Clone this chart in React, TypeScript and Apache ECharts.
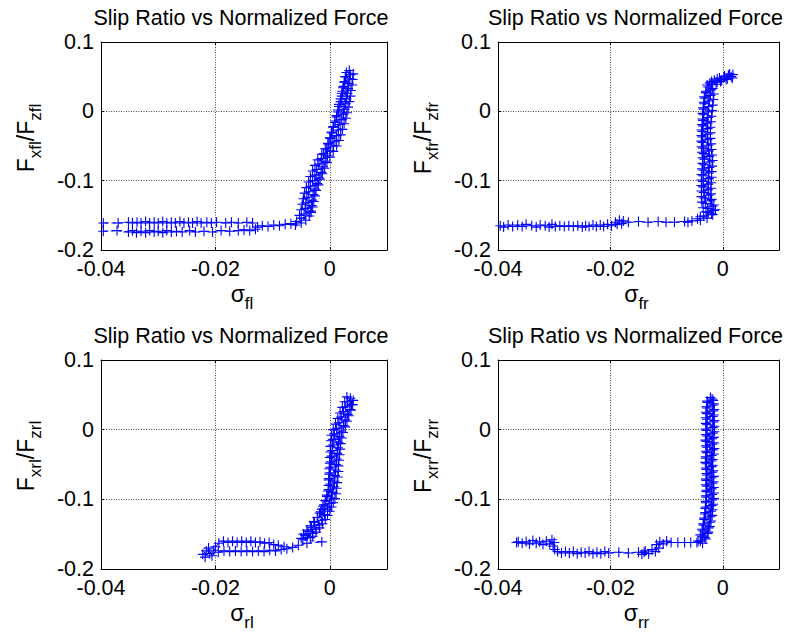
import React, { useEffect, useRef } from 'react';
import * as echarts from 'echarts';

const titleText = 'Slip Ratio vs Normalized Force';
const xTickValues = [-0.04, -0.02, 0];
const yTickValues = [-0.2, -0.1, 0, 0.1];
const wheelSuffix = ['fl', 'fr', 'rl', 'rr'];

// [slip ratio, normalized force]
const frontLeft: [number, number][] = [
  [-0.0053, -0.150], [-0.0033, -0.146], [-0.0050, -0.142], [-0.0030, -0.138], [-0.0048, -0.134],
  [-0.0028, -0.130], [-0.0046, -0.126], [-0.0026, -0.122], [-0.0044, -0.118], [-0.0024, -0.114],
  [-0.0041, -0.110], [-0.0020, -0.106], [-0.0037, -0.102], [-0.0017, -0.098], [-0.0034, -0.094],
  [-0.0013, -0.090], [-0.0030, -0.086], [-0.0009, -0.082], [-0.0026, -0.078], [-0.0005, -0.074],
  [-0.0021, -0.070], [0.0000, -0.066], [-0.0014, -0.062], [0.0006, -0.058], [-0.0008, -0.054],
  [0.0012, -0.050], [-0.0003, -0.046], [0.0016, -0.042], [0.0000, -0.038], [0.0019, -0.034],
  [0.0003, -0.030], [0.0022, -0.026], [0.0006, -0.022], [0.0025, -0.018], [0.0009, -0.014],
  [0.0028, -0.010], [0.0012, -0.006], [0.0030, -0.002], [0.0014, 0.002], [0.0032, 0.006],
  [0.0016, 0.010], [0.0034, 0.014], [0.0019, 0.018], [0.0036, 0.022], [0.0021, 0.026],
  [0.0037, 0.030], [0.0023, 0.034], [0.0039, 0.038], [0.0025, 0.042], [0.0040, 0.046],
  [0.0028, 0.050], [0.0041, 0.054],
  [0.0034, 0.059], [0.0029, 0.056], [0.0036, 0.053], [0.0027, 0.050], [0.0035, 0.047],
  [0.0026, 0.043], [0.0033, 0.040], [0.0024, 0.036], [0.0032, 0.033], [0.0022, 0.029],
  [0.0031, 0.026], [0.0021, 0.022], [0.0029, 0.018], [0.0019, 0.014], [0.0028, 0.011],
  [0.0016, 0.007], [0.0026, 0.003], [0.0015, -0.001], [0.0024, -0.004], [0.0012, -0.008],
  [0.0021, -0.012], [0.0009, -0.016], [0.0018, -0.019], [0.0006, -0.023], [0.0015, -0.027],
  [0.0004, -0.031], [0.0012, -0.035], [0.0001, -0.039], [0.0009, -0.043], [-0.0003, -0.047],
  [0.0006, -0.050], [-0.0006, -0.054], [0.0001, -0.057], [-0.0011, -0.061], [-0.0004, -0.064],
  [-0.0015, -0.068], [-0.0008, -0.072], [-0.0019, -0.076], [-0.0012, -0.080], [-0.0023, -0.084],
  [-0.0015, -0.088], [-0.0026, -0.092], [-0.0019, -0.096], [-0.0030, -0.100], [-0.0022, -0.104],
  [-0.0034, -0.108], [-0.0026, -0.112], [-0.0037, -0.116], [-0.0029, -0.120], [-0.0040, -0.124],
  [-0.0031, -0.128], [-0.0042, -0.132], [-0.0032, -0.136], [-0.0043, -0.140], [-0.0033, -0.144],
  [-0.0045, -0.148], [-0.0036, -0.151], [-0.0050, -0.154], [-0.0042, -0.157], [-0.0058, -0.159],
  [-0.0050, -0.161], [-0.0068, -0.162], [-0.0060, -0.164], [-0.0078, -0.163], [-0.0088, -0.165],
  [-0.0098, -0.164], [-0.0108, -0.166], [-0.0118, -0.165], [-0.0126, -0.167],
  [-0.0135, -0.161], [-0.0145, -0.160], [-0.0160, -0.161], [-0.0172, -0.160], [-0.0182, -0.161],
  [-0.0198, -0.160], [-0.0207, -0.161], [-0.0215, -0.160], [-0.0225, -0.161], [-0.0232, -0.159],
  [-0.0240, -0.161], [-0.0247, -0.160], [-0.0255, -0.161], [-0.0262, -0.159], [-0.0270, -0.161],
  [-0.0277, -0.160], [-0.0285, -0.161], [-0.0292, -0.159], [-0.0300, -0.161], [-0.0307, -0.160],
  [-0.0315, -0.161], [-0.0322, -0.159], [-0.0330, -0.161], [-0.0337, -0.160], [-0.0345, -0.161],
  [-0.0352, -0.160], [-0.0370, -0.161], [-0.0396, -0.161],
  [-0.0396, -0.173], [-0.0372, -0.172], [-0.0352, -0.174], [-0.0345, -0.172], [-0.0338, -0.175],
  [-0.0330, -0.173], [-0.0322, -0.175], [-0.0315, -0.172], [-0.0307, -0.174], [-0.0300, -0.173],
  [-0.0292, -0.175], [-0.0285, -0.172], [-0.0277, -0.174], [-0.0268, -0.173], [-0.0258, -0.174],
  [-0.0245, -0.172], [-0.0235, -0.174], [-0.0220, -0.173], [-0.0205, -0.174], [-0.0190, -0.172],
  [-0.0175, -0.173], [-0.0160, -0.172], [-0.0150, -0.171], [-0.0140, -0.172], [-0.0130, -0.170],
];

const frontRight: [number, number][] = [
  [-0.0040, -0.152], [-0.0020, -0.148], [-0.0030, -0.145], [-0.0013, -0.142], [-0.0035, -0.139],
  [-0.0016, -0.135], [-0.0037, -0.131], [-0.0020, -0.127], [-0.0038, -0.123], [-0.0021, -0.119],
  [-0.0038, -0.115], [-0.0021, -0.111], [-0.0038, -0.107], [-0.0021, -0.103], [-0.0038, -0.099],
  [-0.0020, -0.095], [-0.0038, -0.091], [-0.0020, -0.087], [-0.0037, -0.083], [-0.0019, -0.079],
  [-0.0036, -0.075], [-0.0018, -0.071], [-0.0036, -0.067], [-0.0019, -0.063], [-0.0037, -0.059],
  [-0.0020, -0.055], [-0.0038, -0.051], [-0.0021, -0.047], [-0.0038, -0.043], [-0.0022, -0.039],
  [-0.0038, -0.035], [-0.0022, -0.031], [-0.0038, -0.027], [-0.0022, -0.023], [-0.0037, -0.019],
  [-0.0021, -0.015], [-0.0036, -0.011], [-0.0020, -0.007], [-0.0036, -0.003], [-0.0019, 0.001],
  [-0.0035, 0.005], [-0.0018, 0.009], [-0.0034, 0.013], [-0.0017, 0.017], [-0.0033, 0.021],
  [-0.0016, 0.025], [-0.0030, 0.029], [-0.0018, 0.033], [-0.0028, 0.038], [-0.0012, 0.039],
  [-0.0020, 0.043], [-0.0004, 0.043], [-0.0010, 0.047], [0.0006, 0.046], [0.0002, 0.050],
  [0.0017, 0.048], [0.0010, 0.052], [0.0018, 0.053],
  [0.0015, 0.050], [0.0012, 0.054], [0.0008, 0.047], [0.0003, 0.051], [-0.0002, 0.045],
  [-0.0006, 0.048], [-0.0010, 0.042], [-0.0015, 0.045], [-0.0019, 0.039], [-0.0023, 0.041],
  [-0.0026, 0.035], [-0.0021, 0.031], [-0.0030, 0.027], [-0.0022, 0.023], [-0.0032, 0.019],
  [-0.0024, 0.015], [-0.0033, 0.011], [-0.0025, 0.007], [-0.0034, 0.003], [-0.0026, -0.001],
  [-0.0034, -0.005], [-0.0026, -0.009], [-0.0035, -0.013], [-0.0027, -0.017], [-0.0035, -0.021],
  [-0.0027, -0.025], [-0.0036, -0.029], [-0.0027, -0.033], [-0.0036, -0.037], [-0.0027, -0.041],
  [-0.0036, -0.045], [-0.0026, -0.049], [-0.0035, -0.053], [-0.0025, -0.057], [-0.0034, -0.061],
  [-0.0024, -0.065], [-0.0033, -0.069], [-0.0023, -0.073], [-0.0033, -0.077], [-0.0024, -0.081],
  [-0.0034, -0.085], [-0.0025, -0.089], [-0.0035, -0.093], [-0.0025, -0.097], [-0.0035, -0.101],
  [-0.0026, -0.105], [-0.0035, -0.109], [-0.0026, -0.113], [-0.0034, -0.117], [-0.0025, -0.121],
  [-0.0033, -0.125], [-0.0022, -0.129], [-0.0031, -0.133], [-0.0019, -0.137], [-0.0027, -0.140],
  [-0.0016, -0.143], [-0.0026, -0.146], [-0.0018, -0.149], [-0.0034, -0.151], [-0.0028, -0.154],
  [-0.0045, -0.155], [-0.0040, -0.157], [-0.0055, -0.158], [-0.0062, -0.160],
  [-0.0068, -0.159], [-0.0086, -0.160], [-0.0101, -0.160], [-0.0115, -0.159], [-0.0133, -0.160],
  [-0.0150, -0.159], [-0.0168, -0.160], [-0.0177, -0.158], [-0.0180, -0.162], [-0.0184, -0.157],
  [-0.0188, -0.163], [-0.0191, -0.160],
  [-0.0198, -0.165], [-0.0205, -0.163], [-0.0212, -0.166], [-0.0218, -0.164], [-0.0225, -0.166],
  [-0.0231, -0.164], [-0.0238, -0.166], [-0.0244, -0.165], [-0.0250, -0.167], [-0.0258, -0.165],
  [-0.0266, -0.166], [-0.0274, -0.165], [-0.0282, -0.166], [-0.0290, -0.165], [-0.0298, -0.166],
  [-0.0304, -0.163], [-0.0309, -0.167], [-0.0316, -0.165], [-0.0325, -0.164], [-0.0332, -0.167],
  [-0.0340, -0.165], [-0.0350, -0.163], [-0.0357, -0.166], [-0.0365, -0.164], [-0.0374, -0.166],
  [-0.0382, -0.164], [-0.0390, -0.167], [-0.0396, -0.165],
];

const rearLeft: [number, number][] = [
  [-0.0050, -0.156], [-0.0030, -0.153], [-0.0046, -0.150], [-0.0024, -0.147], [-0.0040, -0.144],
  [-0.0018, -0.141], [-0.0034, -0.138], [-0.0013, -0.135], [-0.0028, -0.132], [-0.0008, -0.129],
  [-0.0022, -0.126], [-0.0004, -0.123], [-0.0018, -0.120], [0.0000, -0.117], [-0.0014, -0.114],
  [0.0003, -0.111], [-0.0010, -0.108], [0.0006, -0.105], [-0.0007, -0.102], [0.0009, -0.099],
  [-0.0005, -0.096], [0.0011, -0.092], [-0.0003, -0.088], [0.0012, -0.084], [-0.0002, -0.080],
  [0.0013, -0.076], [-0.0002, -0.072], [0.0014, -0.068], [-0.0001, -0.064], [0.0015, -0.060],
  [-0.0001, -0.056], [0.0015, -0.052], [0.0000, -0.048], [0.0016, -0.044], [0.0000, -0.040],
  [0.0017, -0.036], [0.0001, -0.032], [0.0018, -0.028], [0.0001, -0.024], [0.0019, -0.020],
  [0.0002, -0.016], [0.0021, -0.012], [0.0003, -0.008], [0.0023, -0.004], [0.0006, 0.000],
  [0.0027, 0.004], [0.0010, 0.008], [0.0030, 0.012], [0.0014, 0.016], [0.0033, 0.020],
  [0.0018, 0.024], [0.0037, 0.028], [0.0022, 0.032], [0.0040, 0.036], [0.0026, 0.040],
  [0.0041, 0.042], [0.0030, 0.047],
  [0.0036, 0.045], [0.0031, 0.040], [0.0038, 0.036], [0.0028, 0.033], [0.0035, 0.029],
  [0.0024, 0.026], [0.0031, 0.022], [0.0020, 0.018], [0.0027, 0.014], [0.0016, 0.010],
  [0.0024, 0.006], [0.0012, 0.002], [0.0020, -0.002], [0.0008, -0.006], [0.0017, -0.010],
  [0.0006, -0.014], [0.0015, -0.018], [0.0005, -0.022], [0.0014, -0.026], [0.0004, -0.030],
  [0.0013, -0.034], [0.0003, -0.038], [0.0012, -0.042], [0.0002, -0.046], [0.0011, -0.050],
  [0.0001, -0.054], [0.0010, -0.058], [0.0000, -0.062], [0.0009, -0.066], [-0.0001, -0.070],
  [0.0008, -0.074], [0.0001, -0.078], [0.0007, -0.082], [-0.0002, -0.086], [0.0005, -0.090],
  [-0.0005, -0.094], [0.0003, -0.098], [-0.0008, -0.102], [0.0000, -0.106], [-0.0012, -0.110],
  [-0.0004, -0.114], [-0.0016, -0.118], [-0.0009, -0.122], [-0.0021, -0.126], [-0.0014, -0.130],
  [-0.0027, -0.133], [-0.0019, -0.137], [-0.0032, -0.140], [-0.0024, -0.143], [-0.0038, -0.146],
  [-0.0030, -0.149], [-0.0043, -0.152], [-0.0034, -0.155], [-0.0047, -0.158], [-0.0014, -0.161],
  [-0.0040, -0.163], [-0.0055, -0.166], [-0.0065, -0.169], [-0.0075, -0.171],
  [-0.0085, -0.172], [-0.0095, -0.174], [-0.0105, -0.173], [-0.0115, -0.175], [-0.0125, -0.174],
  [-0.0135, -0.175], [-0.0145, -0.174], [-0.0155, -0.175], [-0.0165, -0.174], [-0.0175, -0.175],
  [-0.0185, -0.174], [-0.0195, -0.176], [-0.0203, -0.173], [-0.0210, -0.178], [-0.0216, -0.174],
  [-0.0222, -0.179], [-0.0218, -0.183], [-0.0212, -0.170], [-0.0206, -0.181], [-0.0200, -0.168],
  [-0.0194, -0.163], [-0.0186, -0.160], [-0.0178, -0.162], [-0.0170, -0.160], [-0.0162, -0.162],
  [-0.0154, -0.160], [-0.0146, -0.162], [-0.0138, -0.160], [-0.0130, -0.162], [-0.0122, -0.161],
  [-0.0114, -0.163], [-0.0106, -0.162], [-0.0098, -0.165], [-0.0090, -0.166], [-0.0080, -0.168],
];

const rearRight: [number, number][] = [
  [-0.0044, -0.160], [-0.0032, -0.155], [-0.0040, -0.151], [-0.0026, -0.147], [-0.0037, -0.143],
  [-0.0023, -0.139], [-0.0035, -0.135], [-0.0021, -0.131], [-0.0033, -0.127], [-0.0019, -0.123],
  [-0.0031, -0.119], [-0.0018, -0.115], [-0.0030, -0.111], [-0.0017, -0.107], [-0.0030, -0.103],
  [-0.0016, -0.099], [-0.0030, -0.095], [-0.0016, -0.091], [-0.0029, -0.087], [-0.0016, -0.083],
  [-0.0030, -0.079], [-0.0017, -0.075], [-0.0030, -0.071], [-0.0016, -0.067], [-0.0029, -0.063],
  [-0.0017, -0.059], [-0.0030, -0.055], [-0.0018, -0.051], [-0.0031, -0.047], [-0.0018, -0.043],
  [-0.0030, -0.039], [-0.0016, -0.035], [-0.0030, -0.031], [-0.0015, -0.027], [-0.0030, -0.023],
  [-0.0016, -0.019], [-0.0031, -0.015], [-0.0016, -0.011], [-0.0030, -0.007], [-0.0015, -0.003],
  [-0.0030, 0.001], [-0.0015, 0.005], [-0.0030, 0.009], [-0.0015, 0.013], [-0.0030, 0.017],
  [-0.0016, 0.021], [-0.0030, 0.025], [-0.0015, 0.029], [-0.0029, 0.033], [-0.0016, 0.037],
  [-0.0028, 0.041], [-0.0019, 0.044],
  [-0.0022, 0.046], [-0.0017, 0.042], [-0.0027, 0.039], [-0.0018, 0.035], [-0.0028, 0.031],
  [-0.0017, 0.027], [-0.0028, 0.023], [-0.0018, 0.019], [-0.0028, 0.015], [-0.0017, 0.011],
  [-0.0028, 0.007], [-0.0018, 0.003], [-0.0029, -0.001], [-0.0018, -0.005], [-0.0028, -0.009],
  [-0.0019, -0.013], [-0.0029, -0.017], [-0.0019, -0.021], [-0.0028, -0.025], [-0.0018, -0.029],
  [-0.0028, -0.033], [-0.0020, -0.037], [-0.0030, -0.041], [-0.0021, -0.045], [-0.0029, -0.049],
  [-0.0020, -0.053], [-0.0029, -0.057], [-0.0019, -0.061], [-0.0028, -0.065], [-0.0020, -0.069],
  [-0.0029, -0.073], [-0.0019, -0.077], [-0.0028, -0.081], [-0.0020, -0.085], [-0.0029, -0.089],
  [-0.0019, -0.093], [-0.0029, -0.097], [-0.0019, -0.101], [-0.0030, -0.105], [-0.0020, -0.109],
  [-0.0031, -0.113], [-0.0021, -0.117], [-0.0032, -0.121], [-0.0022, -0.125], [-0.0033, -0.129],
  [-0.0023, -0.133], [-0.0034, -0.137], [-0.0025, -0.141], [-0.0035, -0.145], [-0.0027, -0.149],
  [-0.0037, -0.153], [-0.0030, -0.157], [-0.0040, -0.160], [-0.0036, -0.163], [-0.0046, -0.162],
  [-0.0057, -0.162], [-0.0068, -0.162], [-0.0080, -0.162], [-0.0092, -0.162], [-0.0100, -0.160],
  [-0.0106, -0.164], [-0.0112, -0.161], [-0.0118, -0.165],
  [-0.0114, -0.170], [-0.0120, -0.175], [-0.0126, -0.172], [-0.0132, -0.178], [-0.0138, -0.174],
  [-0.0144, -0.179], [-0.0140, -0.176], [-0.0150, -0.176], [-0.0168, -0.177], [-0.0185, -0.176],
  [-0.0203, -0.177], [-0.0210, -0.175], [-0.0217, -0.178], [-0.0224, -0.176], [-0.0231, -0.178],
  [-0.0238, -0.175], [-0.0245, -0.177], [-0.0252, -0.176], [-0.0259, -0.178], [-0.0266, -0.175],
  [-0.0273, -0.177], [-0.0280, -0.175], [-0.0287, -0.177], [-0.0294, -0.175], [-0.0299, -0.172],
  [-0.0302, -0.167], [-0.0300, -0.162], [-0.0304, -0.158], [-0.0308, -0.164], [-0.0314, -0.160],
  [-0.0320, -0.165], [-0.0326, -0.161], [-0.0332, -0.163], [-0.0338, -0.159], [-0.0344, -0.164],
  [-0.0350, -0.161], [-0.0357, -0.163], [-0.0364, -0.161], [-0.0367, -0.162],
];

const seriesData = [frontLeft, frontRight, rearLeft, rearRight];

const FONT = "'Liberation Sans', Arial, Helvetica, sans-serif";
const BLUE = '#0000ff';
const PLUS = 'path://M4.45,0H5.55V4.45H10V5.55H5.55V10H4.45V5.55H0V4.45H4.45Z';

const panels = [
  { left: 101, top: 42, width: 286, height: 208 },
  { left: 498, top: 42, width: 281, height: 208 },
  { left: 101, top: 360, width: 286, height: 209 },
  { left: 498, top: 360, width: 281, height: 209 },
];

const near = (v: number, list: number[]) => list.some((t) => Math.abs(t - v) < 1e-9);
const fmt = (v: number, digits: number) => (Math.abs(v) < 1e-12 ? '0' : v.toFixed(digits));

function buildOption() {
  const grid: any[] = [];
  const xAxis: any[] = [];
  const yAxis: any[] = [];
  const series: any[] = [];
  const graphic: any[] = [];

  panels.forEach((p, i) => {
    grid.push({ left: p.left, top: p.top, width: p.width, height: p.height, containLabel: false });
    const common = {
      gridIndex: i,
      type: 'value',
      axisLine: { show: true, onZero: false, lineStyle: { color: '#000', width: 1 } },
      axisTick: { show: true, inside: true, length: 3, lineStyle: { color: '#000' } },
    };
    xAxis.push({
      ...common,
      position: 'bottom',
      min: -0.04,
      max: 0.01,
      interval: 0.02,
      splitLine: { show: true, lineStyle: { color: '#444', type: [1, 1.5], width: 1 } },
      axisLabel: {
        show: true,
        margin: 8,
        color: '#000',
        fontSize: 21.5,
        fontFamily: FONT,
        formatter: (v: number) => (near(v, xTickValues) ? fmt(v, 2) : ''),
      },
    });
    xAxis.push({
      ...common,
      position: 'top',
      min: -0.04,
      max: 0.01,
      interval: 0.02,
      splitLine: { show: false },
      axisLabel: { show: false },
    });
    yAxis.push({
      ...common,
      position: 'left',
      min: -0.2,
      max: 0.1,
      interval: 0.1,
      splitLine: { show: true, lineStyle: { color: '#444', type: [1, 1.5], width: 1 } },
      axisLabel: {
        show: true,
        margin: 7,
        color: '#000',
        fontSize: 21.5,
        fontFamily: FONT,
        formatter: (v: number) => (near(v, yTickValues) ? fmt(v, 1) : ''),
      },
    });
    yAxis.push({
      ...common,
      position: 'right',
      min: -0.2,
      max: 0.1,
      interval: 0.1,
      splitLine: { show: false },
      axisLabel: { show: false },
    });

    series.push({
      type: 'line',
      xAxisIndex: i * 2,
      yAxisIndex: i * 2,
      data: seriesData[i],
      symbol: PLUS,
      symbolSize: 10,
      showSymbol: true,
      clip: true,
      silent: true,
      lineStyle: { color: BLUE, width: 1, type: [4, 3] },
      itemStyle: { color: BLUE },
      emphasis: { disabled: true },
    });

    const sfx = wheelSuffix[i];
    const cx = p.left + p.width / 2;
    graphic.push({
      type: 'text',
      x: cx - 3,
      y: p.top - 24.5,
      style: {
        text: titleText,
        fontSize: 21.5,
        fontFamily: FONT,
        fill: '#000',
        align: 'center',
        verticalAlign: 'middle',
      },
    });
    graphic.push({
      type: 'text',
      x: p.left - 75,
      y: p.top + 96,
      rotation: Math.PI / 2,
      style: {
        text: `{n|F}{s|x${sfx}}{n|/F}{s|z${sfx}}`,
        align: 'center',
        verticalAlign: 'middle',
        fill: '#000',
        rich: {
          n: { fontSize: 23, fontFamily: FONT, lineHeight: 23, verticalAlign: 'top', fill: '#000' },
          s: { fontSize: 17, fontFamily: FONT, lineHeight: 17, padding: [12, 0, 0, 0], verticalAlign: 'top', fill: '#000' },
        },
      },
    });
    graphic.push({
      type: 'text',
      x: cx - 2,
      y: p.top + p.height + 44,
      style: {
        text: `{g|σ}{s|${sfx}}`,
        align: 'center',
        verticalAlign: 'middle',
        fill: '#000',
        rich: {
          g: { fontSize: 23, fontFamily: FONT, lineHeight: 23, verticalAlign: 'top', fill: '#000' },
          s: { fontSize: 17, fontFamily: FONT, lineHeight: 17, padding: [12, 0, 0, 0], verticalAlign: 'top', fill: '#000' },
        },
      },
    });
  });

  return {
    animation: false,
    backgroundColor: '#ffffff',
    grid,
    xAxis,
    yAxis,
    series,
    graphic,
  };
}

export default function App() {
  const ref = useRef<HTMLDivElement>(null);
  useEffect(() => {
    if (!ref.current) return;
    const chart = echarts.init(ref.current, undefined, { renderer: 'svg' });
    chart.setOption(buildOption() as any);
    return () => chart.dispose();
  }, []);
  return (
    <div
      ref={ref}
      style={{ position: 'absolute', left: 0, top: 0, width: 790, height: 639, background: '#fff' }}
    />
  );
}
